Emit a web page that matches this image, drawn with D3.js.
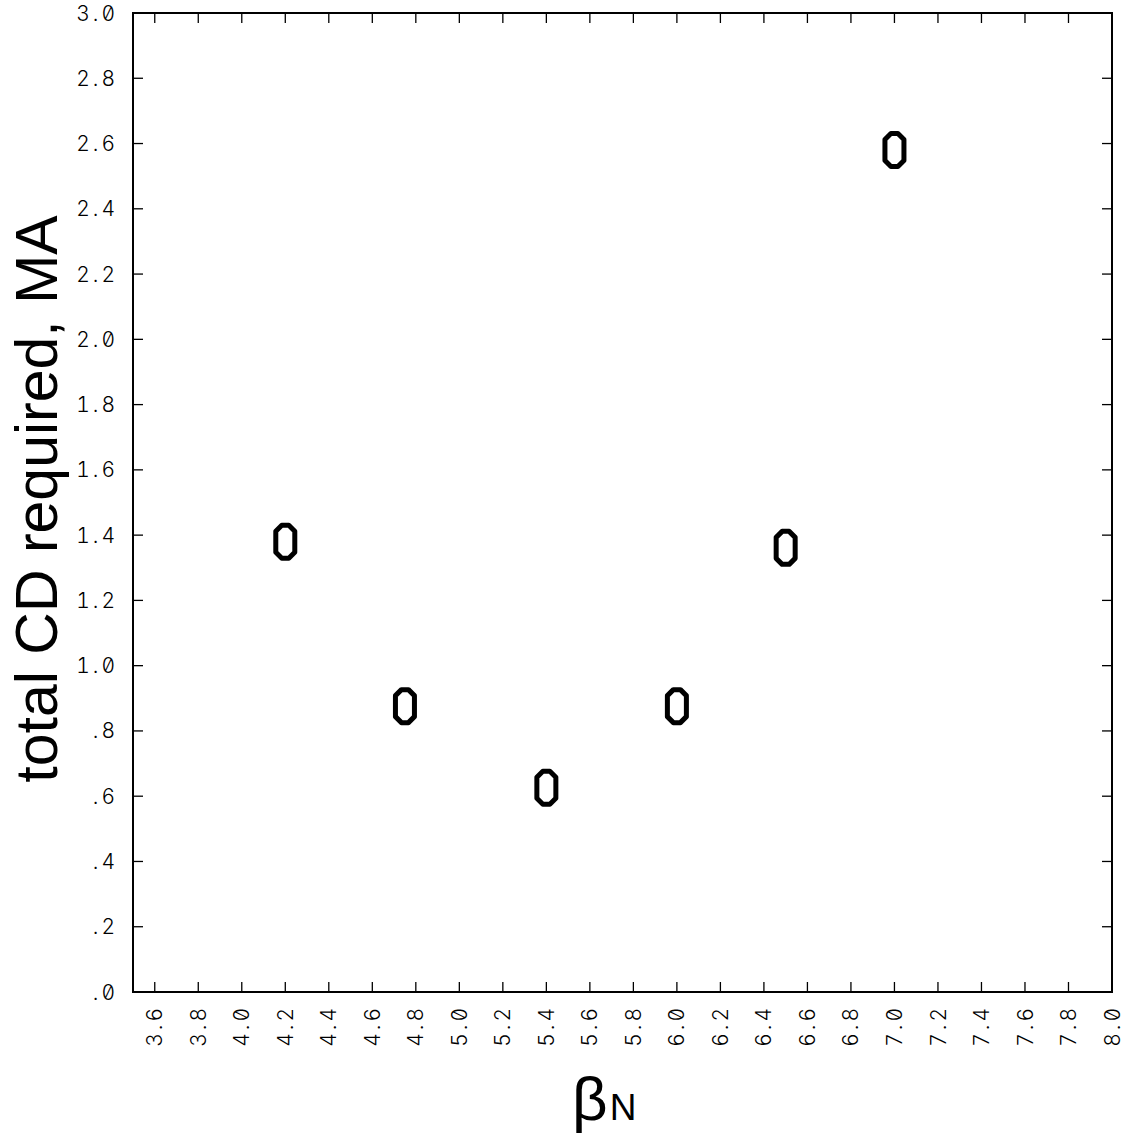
<!DOCTYPE html>
<html><head><meta charset="utf-8">
<script src="https://cdn.jsdelivr.net/npm/d3@7"></script>
<style>
body{margin:0;background:#fff;}
.tick-lbl{font-family:Inter, "DejaVu Sans Mono", monospace;font-weight:300;font-size:21px;font-variant-numeric:tabular-nums slashed-zero;font-feature-settings:"zero" 1,"tnum" 1;letter-spacing:3px;fill:#000;}
</style></head>
<body>
<script>
const betaN = [4.2, 4.75, 5.4, 6.0, 6.5, 7.0];
const totalCD = [1.38, 0.876, 0.626, 0.876, 1.361, 2.58];
const xTicks = [3.6,3.8,4.0,4.2,4.4,4.6,4.8,5.0,5.2,5.4,5.6,5.8,6.0,6.2,6.4,6.6,6.8,7.0,7.2,7.4,7.6,7.8,8.0];
const yTicks = [0,0.2,0.4,0.6,0.8,1.0,1.2,1.4,1.6,1.8,2.0,2.2,2.4,2.6,2.8,3.0];
const xTitle = "β", xSub = "N";
const yTitle = "total CD required, MA";

const W = 1134, H = 1139;
const L = 133, R = 1112, T = 13, B = 992;
const svg = d3.select("body").append("svg").attr("width", W).attr("height", H);
const x = d3.scaleLinear().domain([3.5, 8.0]).range([L, R]);
const y = d3.scaleLinear().domain([0, 3.0]).range([B, T]);

const fmtY = v => { const s = v.toFixed(1); return v < 1 ? s.slice(1) : s; };

// frame
svg.append("rect").attr("x", L).attr("y", T).attr("width", R - L).attr("height", B - T)
  .attr("fill", "none").attr("stroke", "#000").attr("stroke-width", 2);

// axes (inward ticks)
const ax = svg.append("g").attr("stroke", "#000").attr("stroke-width", 1.3);
const tl = 10;
ax.selectAll(".xb").data(xTicks).join("line").attr("x1", d => x(d)).attr("x2", d => x(d)).attr("y1", B).attr("y2", B - tl);
ax.selectAll(".xt").data(xTicks).join("line").attr("x1", d => x(d)).attr("x2", d => x(d)).attr("y1", T).attr("y2", T + tl);
ax.selectAll(".yl").data(yTicks).join("line").attr("y1", d => y(d)).attr("y2", d => y(d)).attr("x1", L).attr("x2", L + tl);
ax.selectAll(".yr").data(yTicks).join("line").attr("y1", d => y(d)).attr("y2", d => y(d)).attr("x1", R).attr("x2", R - tl);

// y tick labels
svg.selectAll(".ylab").data(yTicks).join("text").attr("class", "tick-lbl")
  .attr("x", L - 15).attr("y", d => y(d)).attr("dy", "0.36em").attr("text-anchor", "end")
  .text(fmtY);

// x tick labels rotated
svg.selectAll(".xlab").data(xTicks).join("text").attr("class", "tick-lbl")
  .attr("transform", d => `translate(${x(d)},${B + 13}) rotate(-90)`)
  .attr("dy", "0.36em").attr("text-anchor", "end")
  .text(d => d.toFixed(1));

// markers: octagonal "0" symbols
const mw = 19, mh = 33, c = 6;
const oct = `M${-mw/2 + c},${-mh/2} L${mw/2 - c},${-mh/2} L${mw/2},${-mh/2 + c} L${mw/2},${mh/2 - c} L${mw/2 - c},${mh/2} L${-mw/2 + c},${mh/2} L${-mw/2},${mh/2 - c} L${-mw/2},${-mh/2 + c} Z`;
svg.selectAll(".pt").data(betaN.map((b, i) => [b, totalCD[i]])).join("path")
  .attr("d", oct).attr("transform", d => `translate(${x(d[0])},${y(d[1])})`)
  .attr("fill", "none").attr("stroke", "#000").attr("stroke-width", 5).attr("stroke-linejoin", "round");

// axis titles
svg.append("text").attr("transform", `translate(57,499) rotate(-90)`)
  .attr("text-anchor", "middle").attr("font-family", "Liberation Sans, Arial, sans-serif")
  .attr("font-size", 59).text(yTitle);

const xt = svg.append("text").attr("x", 572).attr("y", 1120).attr("text-anchor", "start")
  .attr("font-family", "Liberation Sans, Arial, sans-serif");
xt.append("tspan").attr("font-size", 62).text(xTitle);
xt.append("tspan").attr("font-size", 37).attr("dx", 2).text(xSub);
</script>
</body></html>
